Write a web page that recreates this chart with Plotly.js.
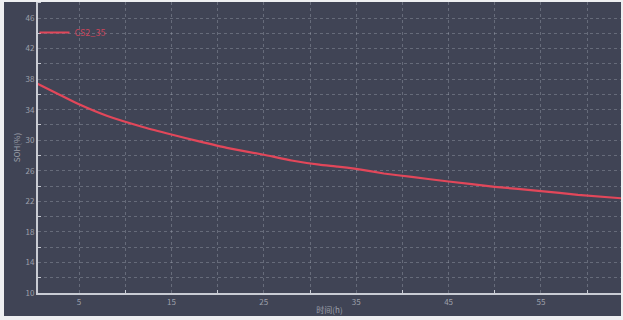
<!DOCTYPE html>
<html>
<head>
<meta charset="utf-8">
<script src="https://cdn.plot.ly/plotly-3.0.1.min.js"></script>
<style>
  html, body { margin: 0; padding: 0; background: #eeeff1; width: 623px; height: 320px; overflow: hidden; }
  #chart { position: absolute; left: 4px; top: 2px; width: 617px; height: 314px; }
</style>
</head>
<body>
<div id="chart"></div>
<script>
const seriesName = "CS2_35";
const xTitle = "时间(h)";
const yTitle = "SOH(%)";
const xValues = [0.5, 3, 5, 8, 12, 15, 18, 21, 25, 28, 31, 33, 35, 38, 41, 45, 50, 55, 59, 63.7];
const yValues = [37.4, 35.9, 34.7, 33.2, 31.7, 30.75, 29.85, 29.0, 28.1, 27.35, 26.8, 26.55, 26.25, 25.65, 25.2, 24.6, 23.9, 23.35, 22.85, 22.4];

const gridCol = 'rgba(185,190,202,0.32)';
const fontFam = '"Noto Sans CJK SC", "DejaVu Sans", sans-serif';

const trace = {
  x: xValues, y: yValues, type: 'scatter', mode: 'lines', name: seriesName,
  line: { color: '#e2475a', width: 2.2, shape: 'spline', smoothing: 0.4 }
};

const layout = {
  width: 617, height: 314,
  margin: { l: 34, r: 0, t: 0, b: 23 },
  paper_bgcolor: '#404455', plot_bgcolor: '#404455',
  font: { family: fontFam, size: 8, color: '#9da0ab' },
  showlegend: true,
  legend: { x: -0.006, y: 0.945, xanchor: 'left', yanchor: 'top', bgcolor: 'rgba(0,0,0,0)',
            font: { color: '#c8445a', size: 9, family: fontFam }, itemwidth: 30 },
  xaxis: {
    range: [0.56, 63.66], tick0: 5, dtick: 10, ticks: '',
    showgrid: true, gridcolor: gridCol, griddash: '3px,3px', gridwidth: 1,
    showline: true, linecolor: '#c9ccd4', linewidth: 2, zeroline: false,
    minor: { dtick: 5, showgrid: true, gridcolor: gridCol, griddash: '3px,3px', ticks: 'inside', ticklen: 3, tickcolor: '#c9ccd4' },
    tickfont: { size: 8, color: '#9da0ab' },
    title: { text: xTitle, font: { size: 8, color: '#9da0ab' }, standoff: 2 }
  },
  yaxis: {
    range: [10, 48.1], tick0: 10, dtick: 4, ticks: '',
    showgrid: true, gridcolor: gridCol, griddash: '3px,3px', gridwidth: 1,
    showline: true, linecolor: '#c9ccd4', linewidth: 2, zeroline: false,
    minor: { dtick: 2, showgrid: true, gridcolor: gridCol, griddash: '3px,3px', ticks: 'inside', ticklen: 3, tickcolor: '#c9ccd4' },
    tickfont: { size: 8, color: '#9da0ab' },
    title: { text: yTitle, font: { size: 8, color: '#9da0ab' }, standoff: 4 }
  }
};

Plotly.newPlot('chart', [trace], layout, { displayModeBar: false, staticPlot: true });
</script>
</body>
</html>
